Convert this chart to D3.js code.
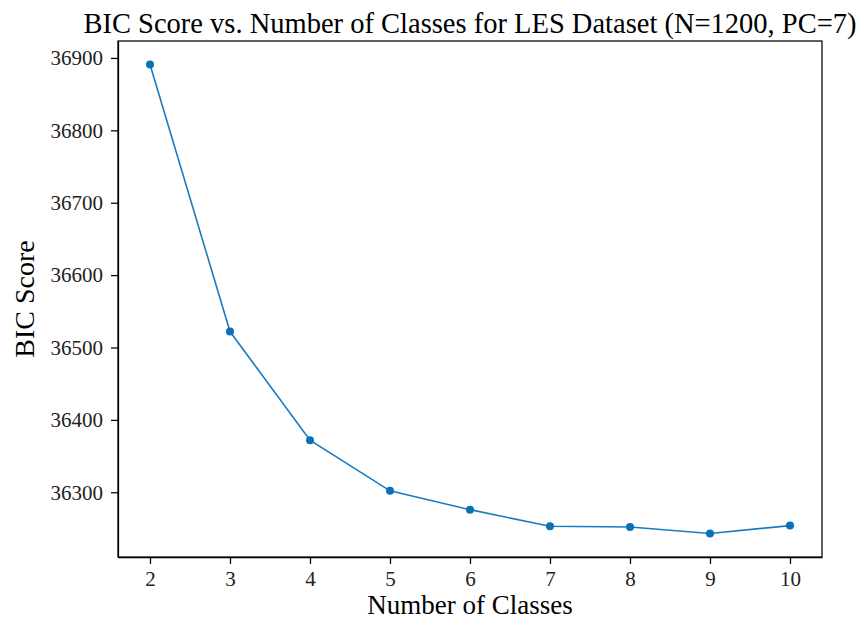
<!DOCTYPE html>
<html><head>
<meta charset="utf-8">
<script src="https://d3js.org/d3.v7.min.js"></script>
<style>
  body { margin: 0; background: #fff; }
  text { font-family: "Liberation Serif", "Times New Roman", serif; fill: #000; }
  .axis path, .axis line { stroke: #000; stroke-width: 1.25px; }
  .axis text { font-size: 21px; fill: #222; }
</style>
</head>
<body>
<svg id="chart" width="862" height="620"></svg>
<script>
// data
const classes = [2, 3, 4, 5, 6, 7, 8, 9, 10];
const bic = [36891, 36522, 36372, 36302, 36276, 36253, 36252, 36243, 36254];
const yTicks = [36300, 36400, 36500, 36600, 36700, 36800, 36900];

const svg = d3.select("#chart");
const margin = {left: 118, right: 40, top: 41, bottom: 63};
const width = +svg.attr("width");
const height = +svg.attr("height");

// matplotlib-like 5% padding around the data
const xPad = (d3.max(classes) - d3.min(classes)) * 0.05;
const yPad = (d3.max(bic) - d3.min(bic)) * 0.05;

const x = d3.scaleLinear()
  .domain([d3.min(classes) - xPad, d3.max(classes) + xPad])
  .range([margin.left, width - margin.right]);
const y = d3.scaleLinear()
  .domain([d3.min(bic) - yPad, d3.max(bic) + yPad])
  .range([height - margin.bottom, margin.top]);

const layer = svg.append("g");

layer.append("g").attr("class", "axis")
  .attr("transform", "translate(0," + (height - margin.bottom) + ")")
  .call(d3.axisBottom(x).tickValues(classes).tickSize(7).tickSizeOuter(0).tickPadding(7).tickFormat(d3.format("d")));

layer.append("g").attr("class", "axis")
  .attr("transform", "translate(" + margin.left + ",0)")
  .call(d3.axisLeft(y).tickValues(yTicks).tickSize(7).tickSizeOuter(0).tickPadding(8).tickFormat(d3.format("d")));

// frame
layer.append("rect")
  .attr("x", margin.left).attr("y", margin.top)
  .attr("width", width - margin.left - margin.right)
  .attr("height", height - margin.top - margin.bottom)
  .attr("fill", "none").attr("stroke", "#000").attr("stroke-width", 1.25);

const pts = classes.map((c, i) => ({c: c, v: bic[i]}));

layer.append("path").datum(pts)
  .attr("fill", "none").attr("stroke", "#1a7ac0").attr("stroke-width", 1.6)
  .attr("d", d3.line().x(d => x(d.c)).y(d => y(d.v)));

layer.selectAll("circle.pt").data(pts)
  .join("circle").attr("class", "pt")
  .attr("cx", d => x(d.c)).attr("cy", d => y(d.v))
  .attr("r", 4).attr("fill", "#0a70b8");

// labels
svg.append("text").attr("x", (margin.left + width - margin.right) / 2).attr("y", 33)
  .attr("text-anchor", "middle").style("font-size", "28.5px")
  .text("BIC Score vs. Number of Classes for LES Dataset (N=1200, PC=7)");

svg.append("text").attr("x", (margin.left + width - margin.right) / 2).attr("y", 614)
  .attr("text-anchor", "middle").style("font-size", "27px")
  .text("Number of Classes");

svg.append("text")
  .attr("transform", "translate(34," + ((margin.top + height - margin.bottom) / 2) + ") rotate(-90)")
  .attr("text-anchor", "middle").style("font-size", "28px")
  .text("BIC Score");
</script>
</body>
</html>
